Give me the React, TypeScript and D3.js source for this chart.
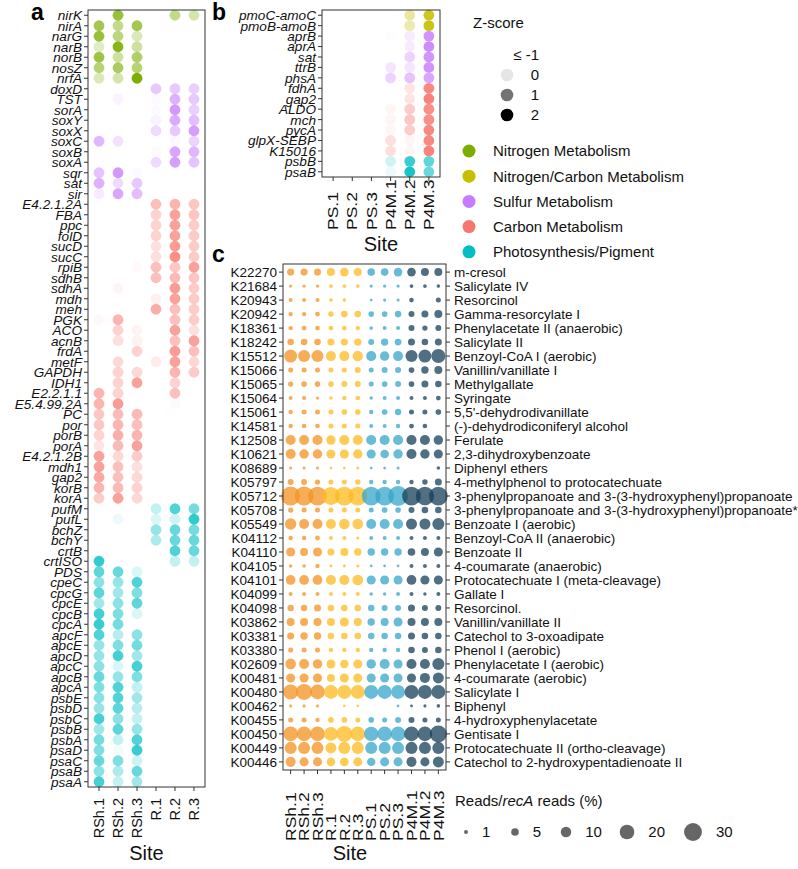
import React from 'react';
import * as d3 from 'd3';

const FONT = "'Liberation Sans', Arial, Helvetica, sans-serif";

// ---------- Panel a ----------
const aSites = ['RSh.1', 'RSh.2', 'RSh.3', 'R.1', 'R.2', 'R.3'];
const aNitrogenGenes = ['nirK', 'nirA', 'narG', 'narB', 'norB', 'nosZ', 'nrfA'];
const aSulfurGenes = ['doxD', 'TST', 'sorA', 'soxY', 'soxX', 'soxC', 'soxB', 'soxA', 'sqr', 'sat', 'sir'];
const aCarbonGenes = ['E4.2.1.2A', 'FBA', 'ppc', 'folD', 'sucD', 'sucC', 'rpiB', 'sdhB', 'sdhA', 'mdh', 'meh', 'PGK', 'ACO', 'acnB', 'frdA', 'metF', 'GAPDH', 'IDH1', 'E2.2.1.1', 'E5.4.99.2A', 'PC', 'por', 'porB', 'porA', 'E4.2.1.2B', 'mdh1', 'gap2', 'korB', 'korA'];
const aPhotoGenes = ['pufM', 'pufL', 'bchZ', 'bchY', 'crtB', 'crtISO', 'PDS', 'cpeC', 'cpcG', 'cpcE', 'cpcB', 'cpcA', 'apcF', 'apcE', 'apcD', 'apcC', 'apcB', 'apcA', 'psbE', 'psbD', 'psbC', 'psbB', 'psbA', 'psaD', 'psaC', 'psaB', 'psaA'];

// z-scores (RSh.1, RSh.2, RSh.3, R.1, R.2, R.3); -1 = not shown
const aNitrogenZ = [
  [-1, 1.5, -1, -1, 0.8, 0.5],
  [1.3, 0.8, 1.3, -1, -1, -1],
  [1.5, 0.9, 0.4, -1, -1, -1],
  [0.3, 1.8, 0.6, -1, -1, -1],
  [1.4, 0.6, 1.1, -1, -1, -1],
  [1.0, 1.2, 1.0, -1, -1, -1],
  [0.4, 0.5, 2.0, -1, -1, -1],
];
const aSulfurZ = [
  [-1, -1, -1, 0.7, 0.7, 0.6],
  [-1, 0, -1, -0.6, 1.1, 0.7],
  [-1, -1, -1, -0.6, 1.5, 0.6],
  [-1, -1, -1, 0, 1.2, 0.9],
  [-1, -1, -1, 0.4, 0.7, 1.4],
  [1.0, 0.3, -1, -1, -0.5, 0.5],
  [-1, -1, -1, -0.6, 1.3, 1.0],
  [-1, -1, -1, 0.4, 1.4, 0.8],
  [0.8, 1.5, -0.6, -1, -1, -1],
  [1.1, 0.4, 0.7, -1, -1, -1],
  [0.1, 1.3, 0.9, -1, -1, -1],
];
const aCarbonZ = [
  [-1, -1, -1, 0.8, 1.0, 0.7],
  [-1, -1, -1, 0.5, 1.3, 0.7],
  [-1, -1, -1, 0.5, 1.3, 0.6],
  [-1, -1, -1, 0.5, 1.3, 0.6],
  [-1, -1, -1, 0.3, 1.4, 0.6],
  [-1, -1, -1, 0.3, 1.6, 0.6],
  [-1, -1, -0.6, 0.8, 0.7, 1.3],
  [-1, -1, -1, 0.8, 0.9, 0.7],
  [-1, -0.2, -1, -1, 1.4, 0.6],
  [-1, -1, -1, 0, 1.3, 0.6],
  [-1, -1, -1, 1.1, 0.8, 0.6],
  [-0.5, 1.0, -1, -1, 0.8, 0.6],
  [-1, 0.5, -0.2, -1, 1.3, 0.3],
  [-1, 0.3, 0, -1, 0.8, 1.3],
  [-1, -1, 0.5, -1, 1.4, 0.8],
  [-1, 0.4, -1, 0.1, 1.3, 0.4],
  [-1, 0.5, 0.4, -1, 1.0, 0.6],
  [-1, 0.5, 1.3, -1, 0.5, -1],
  [1.0, 0.5, -1, -1, 0.8, -1],
  [1.0, 1.4, -1, -1, -0.6, -1],
  [0.7, 0.9, 0.9, -1, -1, -1],
  [0.7, 1.0, 0.8, -1, -1, -1],
  [0.5, 1.1, 1.0, -1, -1, -1],
  [0.2, 0.9, 1.3, -1, -1, -1],
  [1.3, 0.4, 0.6, -1, -1, -1],
  [1.3, 0.8, 0.3, -1, -1, -1],
  [1.2, 0.8, 0.4, -1, -1, -1],
  [1.0, 0.9, 0.5, -1, -1, -1],
  [0.6, 1.3, 0.4, -1, -1, -1],
];
const aPhotoZ = [
  [-1, -1, -1, 0.3, 1.3, 1.0],
  [-1, -0.3, -1, 0.1, 0.2, 1.6],
  [-1, -1, -1, 0.7, 1.1, 1.0],
  [-1, -1, -1, 0.5, 1.1, 1.1],
  [-1, -1, -1, -1, 1.3, 1.1],
  [1.6, -1, -1, -1, 0.3, 0.3],
  [1.2, 1.1, 0.1, -1, -1, -1],
  [0.8, 0.7, 1.3, -1, -1, -1],
  [1.2, 0.6, 0.9, -1, -1, -1],
  [0.6, 0.8, 1.2, -1, -1, -1],
  [1.4, 0.9, 0.1, -1, -1, -1],
  [1.5, 1.0, -1, -1, -1, -1],
  [1.3, 0.4, 0.8, -1, -1, -1],
  [0.7, 0.9, 1.0, -1, -1, -1],
  [0.7, 1.4, 0.6, -1, -1, -1],
  [0.8, 0.1, 1.4, -1, -1, -1],
  [1.1, 0.7, 0.9, -1, -1, -1],
  [0.9, 1.3, 0.3, -1, -1, -1],
  [0.8, 1.3, 0.6, -1, -1, -1],
  [0.7, 1.2, 0.4, -1, -1, -1],
  [1.4, 0.8, 0.3, -1, -1, -1],
  [0.6, 1.2, 0.7, -1, -1, -1],
  [1.0, 0.3, 1.3, -1, -1, -1],
  [0.9, -0.5, 1.5, -1, -1, -1],
  [1.1, 0.9, 0.2, -1, -1, -1],
  [0.8, 0.5, 1.1, -1, -1, -1],
  [1.4, 0.3, 0.6, -1, -1, -1],
];

// ---------- Panel b ----------
const bSites = ['PS.1', 'PS.2', 'PS.3', 'P4M.1', 'P4M.2', 'P4M.3'];
const bGenes = ['pmoC-amoC', 'pmoB-amoB', 'aprB', 'aprA', 'sat', 'ttrB', 'phsA', 'fdhA', 'gap2', 'ALDO', 'mch', 'pycA', 'glpX-SEBP', 'K15016', 'psbB', 'psaB'];
const bGeneGroups = ['NC', 'NC', 'S', 'S', 'S', 'S', 'S', 'C', 'C', 'C', 'C', 'C', 'C', 'C', 'P', 'P'];
const bZ = [
  [-1, -1, -1, -1, 0.6, 1.7],
  [-1, -1, -1, -1, 0.5, 1.8],
  [-1, -1, -1, -0.8, 0.1, 1.6],
  [-1, -1, -1, -1, 0.1, 1.7],
  [-1, -1, -1, -1, 0.5, 1.6],
  [-1, -1, -1, 0.2, 0.2, 1.6],
  [-1, -1, -1, 0.5, 0.8, 1.3],
  [-1, -1, -1, -1, 0.2, 1.7],
  [-1, -1, -1, -1, 0.2, 1.8],
  [-1, -1, -1, -0.3, 0.6, 1.6],
  [-1, -1, -1, -0.3, 0.7, 1.6],
  [-1, -1, -1, -0.4, 0.6, 1.7],
  [-1, -1, -1, 0.3, -0.3, 1.7],
  [-1, -1, -1, 0.3, -0.3, 1.8],
  [-1, -1, -1, 0.2, 1.5, 1.2],
  [-1, -1, -1, -0.2, 1.8, 1.1],
];

// ---------- Panel c ----------
const cSites = ['RSh.1', 'RSh.2', 'RSh.3', 'R.1', 'R.2', 'R.3', 'PS.1', 'PS.2', 'PS.3', 'P4M.1', 'P4M.2', 'P4M.3'];
const cKOs = ['K22270', 'K21684', 'K20943', 'K20942', 'K18361', 'K18242', 'K15512', 'K15066', 'K15065', 'K15064', 'K15061', 'K14581', 'K12508', 'K10621', 'K08689', 'K05797', 'K05712', 'K05708', 'K05549', 'K04112', 'K04110', 'K04105', 'K04101', 'K04099', 'K04098', 'K03862', 'K03381', 'K03380', 'K02609', 'K00481', 'K00480', 'K00462', 'K00455', 'K00450', 'K00449', 'K00446'];
const cPathways = ['m-cresol', 'Salicylate IV', 'Resorcinol', 'Gamma-resorcylate I', 'Phenylacetate II (anaerobic)', 'Salicylate II', 'Benzoyl-CoA I (aerobic)', 'Vanillin/vanillate I', 'Methylgallate', 'Syringate', "5,5'-dehydrodivanillate", '(-)-dehydrodiconiferyl alcohol', 'Ferulate', '2,3-dihydroxybenzoate', 'Diphenyl ethers', '4-methylphenol to protocatechuate', '3-phenylpropanoate and 3-(3-hydroxyphenyl)propanoate', '3-phenylpropanoate and 3-(3-hydroxyphenyl)propanoate*', 'Benzoate I (aerobic)', 'Benzoyl-CoA II (anaerobic)', 'Benzoate II', '4-coumarate (anaerobic)', 'Protocatechuate I (meta-cleavage)', 'Gallate I', 'Resorcinol.', 'Vanillin/vanillate II', 'Catechol to 3-oxoadipate', 'Phenol I (aerobic)', 'Phenylacetate I (aerobic)', '4-coumarate (aerobic)', 'Salicylate I', 'Biphenyl', '4-hydroxyphenylacetate', 'Gentisate I', 'Protocatechuate II (ortho-cleavage)', 'Catechol to 2-hydroxypentadienoate II'];
// Reads/recA reads (%), null = absent
const cReads: (number | null)[][] = [
  [4.2, 4.2, 4.2, 5.6, 6.6, 5.6, 5, 5, 6.6, 6.6, 5.6, 5.6],
  [0.5, 0.6, 0.6, 0.8, 0.8, 0.8, 0.4, 0.5, 0.5, 0.8, 0.8, 0.7],
  [1.0, 1.0, 1.0, 0.7, 0.7, null, 0.2, 0.4, 0.4, 1.5, null, 1.9],
  [1.3, 1.3, 1.7, 2.3, 3.6, 3.6, 2.5, 2.5, 3.6, 2.9, 4.2, 5.6],
  [1.3, 1.7, 1.7, 1.7, 1.7, 1.3, 0.7, 1, 1, 2.9, 2.1, 2.9],
  [3.6, 3.6, 3.6, 4.2, 4.2, 4.7, 2.9, 4.7, 3.9, 4.2, 3.6, 4.2],
  [15.6, 13.3, 13.3, 9.1, 9.1, 9.8, 9.1, 8, 9.1, 13.3, 15.6, 18.3],
  [1.9, 1.9, 1.9, 1.9, 1.9, 2.9, 1.9, 2.9, 2.9, 2.5, 4.7, 5.6],
  [2.1, 2.5, 2.5, 2.5, 2.9, 2.9, 1.9, 2.5, 2.9, 2.5, 4.2, 3.6],
  [1, 1.2, 0.5, 0.7, 1.3, 1.5, 0.6, 1, 1, 1, 1, 1.7],
  [1.3, 1.9, 1.9, 1.9, 2.5, 2.5, 1.3, 2.5, 3.4, 1.9, 1.9, 2.5],
  [1.3, 1.5, 1.5, 1.9, 1.9, 1.9, 1, 1, 1.3, 1.7, 1.5, null],
  [9.1, 9.1, 9.1, 8, 9.1, 9.1, 9.1, 9.1, 9.1, 9.1, 9.1, 8],
  [9.1, 8, 8, 7.3, 7.3, 8, 7.3, 6.6, 8, 9.1, 8, 7.3],
  [0.4, 0.4, 0.4, 0.2, 0.2, 0.4, 0.2, 0.2, 0.4, null, null, 0.7],
  [2.9, 2.9, 2.1, 1.9, 1.9, 2.3, 1.3, 1.3, 1.3, 1.3, 2.3, 4.2],
  [34, 34, 33, 30, 33, 33, 33, 33, 37, 33, 32, 33],
  [2.1, 1.9, 1.9, 1.9, 1.9, 1.9, 1.9, 2.5, 2.5, 2.9, 3.6, 3.6],
  [12, 9.1, 9.1, 9.1, 10.3, 10.3, 9.1, 9.1, 9.1, 11, 11, 13.3],
  [1.3, 1.3, 1.7, 1, 1, 0.4, 1, 1, 1, 1, 1, 1],
  [7.3, 5.6, 7.3, 4.2, 5.6, 4.7, 4.7, 4.7, 4.7, 5, 5.6, 7.3],
  [0.7, 0.7, 1.3, 0.3, 0.3, 0.4, 0.2, 0.2, 0.2, 1, 1, 1],
  [8.5, 8.5, 8.5, 9.1, 9.1, 10.3, 7.3, 7.3, 7.3, 8.5, 7.3, 7.3],
  [1, 1, 1, 1, 1, 1, 0.6, 0.6, 1, 1, 0.6, 1],
  [3.4, 3.4, 4.2, 3.6, 3.6, 3.6, 3.4, 2.9, 2.9, 4.2, 2.9, 2.9],
  [5.6, 5.6, 5.6, 5.6, 7.3, 5.6, 4.7, 5.6, 7.3, 5.6, 5.6, 5.6],
  [4.2, 4.7, 4.7, 3.6, 3.6, 3.6, 3.6, 3.6, 3.6, 4.2, 3.6, 3.6],
  [1.9, 1.9, 1.9, 1.3, 1.3, 1.3, 1.3, 1.3, 1.3, 3.6, 2.9, 3.6],
  [10.3, 9.1, 8, 7.3, 6.3, 7.3, 8, 9.1, 7.3, 9.1, 9.1, 13.3],
  [7.3, 7.3, 7.3, 5.6, 7.3, 7.3, 7.3, 7.3, 7.3, 7.3, 9.1, 11],
  [21, 24, 20, 18, 18, 18, 18, 18, 18, 18, 18, 18],
  [0.4, 0.4, 0.4, null, 0.2, 0.2, null, null, 0.2, 0.2, 0.4, 0.7],
  [1.9, 1.9, 1.3, 2.5, 2.5, 1.9, 2.5, 1.9, 2.9, 2.9, 1.9, 1.9],
  [20, 20, 20, 18, 24, 20, 19, 20, 20, 20, 20, 27],
  [13.3, 13.3, 13.3, 11, 13.3, 13.3, 13.3, 13.3, 13.3, 13.3, 13.3, 13.3],
  [9.1, 7.3, 7.3, 6.6, 6.6, 7.3, 6.3, 7.3, 7.3, 9.1, 7.3, 11],
];

// ---------- Legends ----------
const zLegendValues = [-1, 0, 1, 2];
const zLegendLabels = ['\u2264 -1', '0', '1', '2'];
const groupKeys = ['N', 'NC', 'S', 'C', 'P'];
const groupNames = ['Nitrogen Metabolism', 'Nitrogen/Carbon Metabolism', 'Sulfur Metabolism', 'Carbon Metabolism', 'Photosynthesis/Pigment'];
const groupColors = ['#7CAE00', '#C6BE00', '#C77CFF', '#F8766D', '#00BFC4'];
const sizeLegendValues = [1, 5, 10, 20, 30];
const siteColors = ['#F49220', '#F49220', '#F49220', '#FDBB1E', '#FDBB1E', '#FDBB1E', '#35A6C9', '#35A6C9', '#35A6C9', '#163F58', '#163F58', '#163F58'];

const colorOf = d3.scaleOrdinal<string, string>().domain(groupKeys).range(groupColors);
const alphaOf = d3.scaleLinear().domain([-1, 0, 1, 2]).range([0, 0.1, 0.55, 1]).clamp(true);
const areaOf = d3.scaleLinear().domain([1, 30]).range([4, 80]);
const radiusOf = (v: number) => Math.sqrt(Math.max(0.5, areaOf(v)));

const TXT = '#111';
const AX = '#333';

function Box({ x0, y0, x1, y1 }: any) {
  return <rect x={x0} y={y0} width={x1 - x0} height={y1 - y0} fill="none" stroke={AX} strokeWidth={1} />;
}

function LeftAxis({ scale, x, italic, size }: any) {
  return (
    <g>
      {scale.domain().map((d: string) => (
        <g key={d} transform={`translate(0,${scale(d)})`}>
          <line x1={x - 4} x2={x} stroke={AX} strokeWidth={1} />
          <text x={x - 6} dy="0.36em" textAnchor="end" fontStyle={italic ? 'italic' : 'normal'} fontSize={size} fill={TXT}>{d}</text>
        </g>
      ))}
    </g>
  );
}

function BottomAxis({ scale, y, anchorY, mode, size, squeeze }: any) {
  return (
    <g>
      {scale.domain().map((d: string) => (
        <g key={d}>
          <line x1={scale(d)} x2={scale(d)} y1={y} y2={y + 4} stroke={AX} strokeWidth={1} />
          <text
            transform={`translate(${scale(d)},${anchorY}) rotate(-90) scale(1,${squeeze})`}
            dy="0.36em"
            textAnchor={mode}
            fontSize={size}
            fill={TXT}
          >{d}</text>
        </g>
      ))}
    </g>
  );
}

export default function App() {
  const aGenes = [...aNitrogenGenes, ...aSulfurGenes, ...aCarbonGenes, ...aPhotoGenes];
  const aGroups = [
    ...aNitrogenGenes.map(() => 'N'),
    ...aSulfurGenes.map(() => 'S'),
    ...aCarbonGenes.map(() => 'C'),
    ...aPhotoGenes.map(() => 'P'),
  ];
  const aZ = [...aNitrogenZ, ...aSulfurZ, ...aCarbonZ, ...aPhotoZ];
  const A = { x0: 88, x1: 205, y0: 10, y1: 787 };
  const ax = d3.scalePoint().domain(aSites).range([A.x0, A.x1]).padding(0.58);
  const ay = d3.scalePoint().domain(aGenes).range([A.y0, A.y1]).padding(0.5);

  const B = { x0: 322, x1: 440, y0: 10, y1: 177 };
  const bx = d3.scalePoint().domain(bSites).range([B.x0, B.x1]).padding(0.58);
  const by = d3.scalePoint().domain(bGenes).range([B.y0, B.y1]).padding(0.5);

  const C = { x0: 283, x1: 446, y0: 264, y1: 770 };
  const cx = d3.scalePoint().domain(cSites).range([C.x0, C.x1]).padding(0.57);
  const cy = d3.scalePoint().domain(cKOs).range([C.y0, C.y1]).padding(0.58);

  const rDot = 5.4;

  return (
    <svg width={798} height={869} style={{ position: 'absolute', left: 0, top: 0, background: '#fff' }} fontFamily={FONT}>
      <rect width={798} height={869} fill="#fff" />
      <text x={31} y={20} fontSize={23} fontWeight="bold" fill="#000">a</text>
      <text x={212} y={20} fontSize={23} fontWeight="bold" fill="#000">b</text>
      <text x={212} y={262} fontSize={23} fontWeight="bold" fill="#000">c</text>

      {/* ---- panel a ---- */}
      <g>
        {aZ.map((row, i) =>
          row.map((z, j) => (
            <circle key={`a${i}-${j}`} cx={ax(aSites[j])} cy={ay(aGenes[i])} r={rDot}
              fill={colorOf(aGroups[i])} fillOpacity={alphaOf(z)} />
          ))
        )}
        <Box {...A} />
        <LeftAxis scale={ay} x={A.x0} italic size={13.6} />
        <BottomAxis scale={ax} y={A.y1} anchorY={798} mode="end" size={14.5} squeeze={1} />
        <text x={(A.x0 + A.x1) / 2} y={860} textAnchor="middle" fontSize={20} fill={TXT}>Site</text>
      </g>

      {/* ---- panel b ---- */}
      <g>
        {bZ.map((row, i) =>
          row.map((z, j) => (
            <circle key={`b${i}-${j}`} cx={bx(bSites[j])} cy={by(bGenes[i])} r={rDot}
              fill={colorOf(bGeneGroups[i])} fillOpacity={alphaOf(z)} />
          ))
        )}
        <Box {...B} />
        <LeftAxis scale={by} x={B.x0} italic size={13.6} />
        <BottomAxis scale={bx} y={B.y1} anchorY={230} mode="start" size={17.5} squeeze={0.82} />
        <text x={(B.x0 + B.x1) / 2} y={251} textAnchor="middle" fontSize={20} fill={TXT}>Site</text>
      </g>

      {/* ---- legends ---- */}
      <g>
        <text x={473} y={28} fontSize={15} fill={TXT}>Z-score</text>
        {zLegendValues.map((v, i) => (
          <g key={`zl${i}`} transform={`translate(0,${55 + i * 20})`}>
            <circle cx={507} cy={0} r={6.3} fill="#000" fillOpacity={alphaOf(v)} />
            <text x={539} dy="0.36em" textAnchor="end" fontSize={15} fill={TXT}>{zLegendLabels[i]}</text>
          </g>
        ))}
        {groupNames.map((n, i) => (
          <g key={`gl${i}`} transform={`translate(0,${151 + i * 25.2})`}>
            <circle cx={469} cy={0} r={6.5} fill={groupColors[i]} />
            <text x={493} dy="0.36em" fontSize={15} fill={TXT}>{n}</text>
          </g>
        ))}
      </g>

      {/* ---- panel c ---- */}
      <g>
        {cReads.map((row, i) =>
          row.map((v, j) =>
            v == null ? null : (
              <circle key={`c${i}-${j}`} cx={cx(cSites[j])} cy={cy(cKOs[i])} r={radiusOf(v)}
                fill={siteColors[j]} fillOpacity={0.75} />
            )
          )
        )}
        <Box {...C} />
        <LeftAxis scale={cy} x={C.x0} size={13.5} />
        {cKOs.map((k, i) => (
          <g key={`cr${k}`} transform={`translate(0,${cy(k)})`}>
            <line x1={C.x1} x2={C.x1 + 4} stroke={AX} strokeWidth={1} />
            <text x={C.x1 + 8} dy="0.36em" fontSize={13.5} fill={TXT}>{cPathways[i]}</text>
          </g>
        ))}
        <BottomAxis scale={cx} y={C.y1} anchorY={841} mode="start" size={17.5} squeeze={0.82} />
        <text x={350} y={860} textAnchor="middle" fontSize={20} fill={TXT}>Site</text>

        <text x={455} y={806} fontSize={15} fill={TXT}>
          Reads/<tspan fontStyle="italic">recA</tspan> reads (%)
        </text>
        {sizeLegendValues.map((v, i) => {
          const xs = [466, 515, 566, 627, 693];
          return (
            <g key={`sl${v}`} transform={`translate(${xs[i]},832)`}>
              <circle r={radiusOf(v)} fill="#333" fillOpacity={0.75} />
              <text x={radiusOf(v) + 14} dy="0.36em" fontSize={15} fill={TXT}>{v}</text>
            </g>
          );
        })}
      </g>
    </svg>
  );
}
